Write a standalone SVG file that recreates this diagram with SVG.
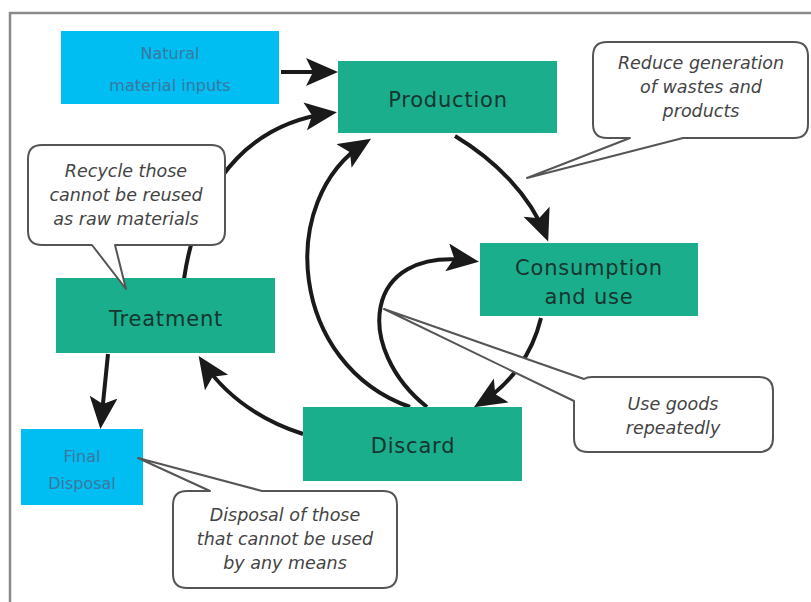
<svg xmlns="http://www.w3.org/2000/svg" width="811" height="602" viewBox="0 0 811 602">
<style>
.green{fill:#1aae8c}
.cyan{fill:#00bdf2}
.nt{font-family:"DejaVu Sans","Noto Sans",sans-serif;font-size:21px;fill:#16352f;text-anchor:middle;letter-spacing:0.8px}
.ct{font-family:"DejaVu Sans","Noto Sans",sans-serif;font-size:16px;fill:#3a78a0;text-anchor:middle}
.call{fill:#fff;stroke:#555;stroke-width:2;stroke-linejoin:round}
.cx{font-family:"DejaVu Sans","Noto Sans",sans-serif;font-size:17.5px;font-style:italic;fill:#444;text-anchor:middle}
.arr{fill:none;stroke:#1a1a1a;stroke-width:4;marker-end:url(#ah)}
</style>
<defs>
<marker id="ah" markerUnits="userSpaceOnUse" markerWidth="34" markerHeight="30" refX="26" refY="14" orient="auto">
<path d="M0,0 L32,14 L0,28 L7,14 Z" fill="#1a1a1a"/>
</marker>
</defs>
<rect width="811" height="602" fill="#fff"/>
<path d="M10,602 V13 H811" fill="none" stroke="#8a8a8a" stroke-width="2.5"/>

<g id="connectors">
<path class="arr" d="M281,72 L332,72"/>
<path class="arr" d="M184,279 C200,170 260,122 331,113"/>
<path class="arr" d="M455,136 C495,160 530,195 546,236"/>
<path class="arr" d="M541,318 C532,355 510,385 479,404"/>
<path class="arr" d="M303,434 C260,420 225,395 202,361"/>
<path class="arr" d="M410,407 C290,365 275,200 366,142"/>
<path class="arr" d="M427,407 C355,350 360,245 473,261"/>
<path class="arr" d="M108,354 L101,423"/>
</g>

<g id="natural">
<rect class="cyan" x="61" y="31" width="218" height="73"/>
<text class="ct" x="170" y="59">Natural</text>
<text class="ct" x="170" y="91">material inputs</text>
</g>
<g id="production">
<rect class="green" x="338" y="61" width="219" height="72"/>
<text class="nt" x="448" y="107">Production</text>
</g>
<g id="consumption">
<rect class="green" x="480" y="243" width="218" height="73"/>
<text class="nt" x="589" y="275">Consumption</text>
<text class="nt" x="589" y="304">and use</text>
</g>
<g id="treatment">
<rect class="green" x="56" y="278" width="219" height="75"/>
<text class="nt" x="166" y="326">Treatment</text>
</g>
<g id="discard">
<rect class="green" x="303" y="407" width="219" height="74"/>
<text class="nt" x="413" y="453">Discard</text>
</g>
<g id="final">
<rect class="cyan" x="21" y="429" width="122" height="76"/>
<text class="ct" x="82" y="462">Final</text>
<text class="ct" x="82" y="489">Disposal</text>
</g>

<g id="callout-reduce">
<path class="call" d="M607,42 H794 Q808,42 808,56 V124 Q808,138 794,138 H683 L527,178 L630,138 H607 Q593,138 593,124 V56 Q593,42 607,42 Z"/>
<text class="cx" x="701" y="69">Reduce generation</text>
<text class="cx" x="701" y="93">of wastes and</text>
<text class="cx" x="701" y="117">products</text>
</g>
<g id="callout-recycle">
<path class="call" d="M42,145 H211 Q225,145 225,159 V231 Q225,245 211,245 H115 L126,289 L92,245 H42 Q28,245 28,231 V159 Q28,145 42,145 Z"/>
<text class="cx" x="126" y="177">Recycle those</text>
<text class="cx" x="126" y="201">cannot be reused</text>
<text class="cx" x="126" y="225">as raw materials</text>
</g>
<g id="callout-reuse">
<path class="call" d="M592,377 H759 Q773,377 773,391 V438 Q773,452 759,452 H588 Q574,452 574,438 V401 L384,309 L584,379 Q587,377 592,377 Z"/>
<text class="cx" x="673" y="410">Use goods</text>
<text class="cx" x="673" y="434">repeatedly</text>
</g>
<g id="callout-disposal">
<path class="call" d="M187,491 H210 L138,458 L262,491 H383 Q397,491 397,505 V574 Q397,588 383,588 H187 Q173,588 173,574 V505 Q173,491 187,491 Z"/>
<text class="cx" x="285" y="521">Disposal of those</text>
<text class="cx" x="285" y="545">that cannot be used</text>
<text class="cx" x="285" y="569">by any means</text>
</g>
</svg>
